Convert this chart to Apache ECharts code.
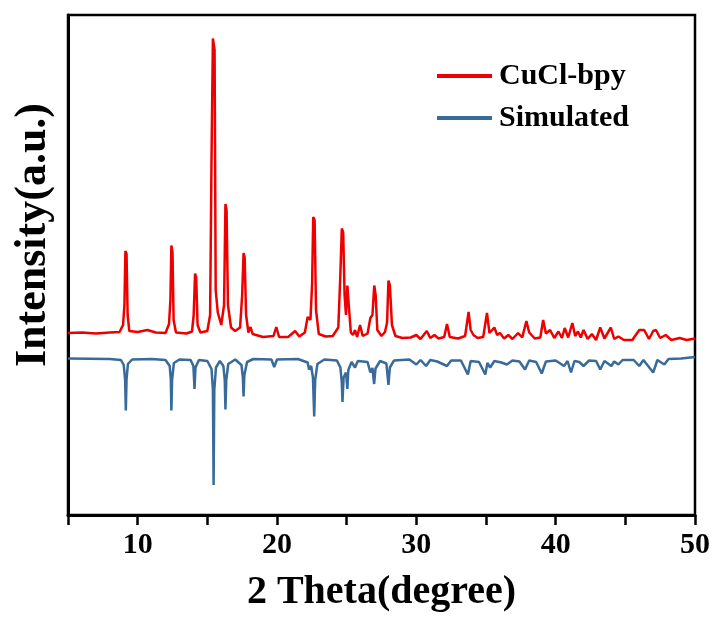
<!DOCTYPE html>
<html>
<head>
<meta charset="utf-8">
<script src="https://cdn.jsdelivr.net/npm/echarts@6/dist/echarts.min.js"></script>
<style>
  html, body { margin: 0; padding: 0; background: #fff; }
  #chart { width: 713px; height: 618px; }
</style>
</head>
<body>
<div id="chart"></div>
<script>
// Powder XRD patterns: measured CuCl-bpy (offset upward) and simulated (plotted inverted below)
const seriesNames = ['CuCl-bpy', 'Simulated'];
const xTicks = [10, 20, 30, 40, 50];

// [2θ, intensity] for the measured pattern
const cuclBpy = [
  [5.0, 36.4], [6.0, 36.5], [7.0, 36.3], [8.0, 36.5], [8.7, 36.6], [8.95, 38.0], [9.05, 42.0],
  [9.12, 52.8], [9.2, 52.3], [9.28, 40.0], [9.4, 36.8], [10.0, 36.6], [10.7, 37.0], [11.3, 36.5],
  [12.0, 36.4], [12.25, 38.2], [12.35, 43.0], [12.42, 53.9], [12.5, 52.5], [12.58, 39.0],
  [12.75, 36.5], [13.5, 36.3], [13.9, 36.7], [14.02, 40.0], [14.12, 48.3], [14.2, 47.5],
  [14.3, 38.0], [14.5, 36.5], [15.0, 36.8], [15.2, 40.0], [15.3, 71.1], [15.36, 71.1],
  [15.4, 95.3], [15.47, 95.3], [15.52, 93.0], [15.6, 45.0], [15.75, 40.5], [16.0, 38.0],
  [16.2, 42.0], [16.3, 62.2], [16.38, 61.0], [16.48, 42.0], [16.7, 37.5], [17.0, 36.8],
  [17.35, 37.5], [17.5, 44.0], [17.6, 52.4], [17.68, 51.5], [17.78, 40.0], [17.95, 36.5],
  [18.1, 37.6], [18.25, 36.2], [19.0, 35.6], [19.75, 35.8], [19.95, 37.6], [20.15, 35.6],
  [20.8, 35.6], [21.3, 36.8], [21.6, 35.7], [22.0, 36.5], [22.2, 39.6], [22.4, 39.0],
  [22.52, 46.3], [22.6, 59.6], [22.7, 59.0], [22.8, 41.0], [23.0, 36.2], [23.5, 35.7],
  [24.0, 35.8], [24.4, 37.5], [24.55, 48.2], [24.65, 57.3], [24.75, 56.5], [24.85, 44.0],
  [24.95, 40.0], [25.05, 45.9], [25.15, 42.0], [25.3, 36.5], [25.45, 36.0], [25.6, 37.0],
  [25.75, 35.6], [25.96, 38.0], [26.15, 35.8], [26.5, 36.3], [26.7, 39.4], [26.85, 40.0],
  [26.98, 45.9], [27.08, 44.0], [27.2, 37.0], [27.5, 35.8], [27.75, 36.6], [27.9, 38.5],
  [28.0, 46.9], [28.1, 46.0], [28.25, 38.0], [28.5, 35.8], [29.0, 35.4], [29.6, 35.5],
  [30.0, 36.0], [30.3, 35.2], [30.75, 36.8], [31.0, 35.4], [31.3, 36.0], [31.6, 35.3],
  [32.0, 35.6], [32.2, 38.2], [32.4, 35.6], [33.0, 35.3], [33.5, 35.8], [33.75, 40.6],
  [33.9, 37.0], [34.1, 36.0], [34.4, 35.4], [34.8, 35.6], [35.07, 40.4], [35.25, 36.4],
  [35.6, 37.5], [35.8, 36.0], [36.0, 36.4], [36.3, 35.3], [36.6, 36.0], [36.9, 35.2],
  [37.3, 36.4], [37.6, 35.5], [37.9, 38.8], [38.1, 36.5], [38.5, 35.3], [38.9, 35.5],
  [39.1, 39.0], [39.3, 36.3], [39.6, 37.0], [39.9, 35.4], [40.2, 36.7], [40.45, 35.4],
  [40.65, 37.4], [40.9, 35.5], [41.2, 38.4], [41.4, 35.8], [41.6, 36.7], [41.8, 35.5],
  [42.0, 37.0], [42.3, 35.2], [42.6, 36.2], [42.9, 35.0], [43.2, 37.5], [43.5, 35.3],
  [43.96, 37.5], [44.2, 35.2], [44.5, 35.7], [44.9, 35.0], [45.5, 35.0], [46.0, 37.0],
  [46.35, 37.0], [46.7, 35.2], [47.0, 36.8], [47.2, 37.0], [47.5, 35.4], [47.9, 36.0],
  [48.3, 35.0], [48.9, 35.4], [49.4, 35.0], [50.0, 35.3]
];

// [2θ, intensity] for the simulated pattern (reflections point downward)
const simulated = [
  [5.0, 31.3], [8.0, 31.2], [8.8, 31.0], [9.0, 30.0], [9.1, 27.0], [9.15, 20.9], [9.2, 27.0],
  [9.3, 30.2], [9.6, 31.1], [11.0, 31.2], [12.0, 31.0], [12.3, 29.8], [12.38, 27.0],
  [12.42, 20.9], [12.47, 27.0], [12.6, 30.4], [13.0, 31.1], [13.8, 31.0], [14.0, 29.8],
  [14.08, 25.2], [14.15, 29.5], [14.4, 31.0], [15.0, 30.8], [15.3, 29.2], [15.4, 25.0],
  [15.45, 6.0], [15.5, 25.0], [15.62, 29.5], [15.9, 30.8], [16.15, 29.8], [16.25, 27.0],
  [16.3, 21.1], [16.36, 27.0], [16.5, 30.2], [17.0, 31.1], [17.45, 30.0], [17.55, 27.5],
  [17.6, 23.7], [17.66, 28.0], [17.85, 30.6], [18.3, 31.2], [19.6, 31.1], [19.8, 29.6],
  [20.0, 31.1], [21.5, 31.2], [22.2, 30.5], [22.3, 29.1], [22.45, 29.8], [22.58, 27.5],
  [22.67, 19.7], [22.74, 27.0], [22.9, 30.2], [23.4, 31.1], [24.3, 30.9], [24.55, 29.5],
  [24.65, 26.5], [24.7, 22.6], [24.78, 27.5], [24.95, 28.5], [25.05, 25.2], [25.12, 29.0],
  [25.35, 30.6], [25.6, 29.5], [25.8, 30.8], [26.5, 30.6], [26.7, 28.5], [26.85, 29.4],
  [26.97, 26.2], [27.07, 29.3], [27.4, 30.8], [27.85, 30.3], [28.0, 26.0], [28.1, 29.5],
  [28.4, 30.9], [29.5, 31.1], [30.0, 30.1], [30.3, 31.0], [30.7, 29.8], [31.0, 31.0],
  [31.5, 30.7], [32.2, 29.8], [32.5, 30.9], [33.2, 30.9], [33.7, 28.1], [33.9, 30.8],
  [34.5, 30.6], [34.95, 28.1], [35.1, 30.4], [35.3, 29.5], [35.6, 30.8], [36.1, 30.5],
  [36.5, 30.1], [36.9, 30.9], [37.4, 30.7], [37.8, 29.1], [38.1, 30.9], [38.6, 30.6],
  [39.0, 28.3], [39.3, 30.7], [40.0, 30.9], [40.6, 29.8], [40.85, 30.8], [41.1, 28.5],
  [41.35, 30.8], [41.7, 30.6], [42.0, 29.8], [42.4, 30.9], [42.9, 30.8], [43.2, 29.1],
  [43.5, 30.8], [44.0, 29.8], [44.2, 30.7], [44.5, 30.1], [44.8, 31.0], [45.6, 31.0],
  [46.0, 29.8], [46.3, 31.0], [47.0, 28.5], [47.3, 31.0], [47.8, 30.1], [48.1, 31.2],
  [49.0, 31.3], [50.0, 31.6]
];

const FONT = '"Liberation Serif", "Times New Roman", serif';
const chart = echarts.init(document.getElementById('chart'), null, { renderer: 'canvas' });

chart.setOption({
  animation: false,
  backgroundColor: '#ffffff',
  grid: {
    left: 68, right: 16, top: 15, bottom: 95,
    show: true, borderColor: '#000', borderWidth: 2.5, backgroundColor: 'transparent'
  },
  legend: {
    data: seriesNames,
    left: 437, top: 61,
    padding: 0,
    orient: 'vertical',
    icon: 'rect',
    itemWidth: 55, itemHeight: 4, itemGap: 12,
    textStyle: { fontFamily: FONT, fontWeight: 'bold', fontSize: 30, color: '#000', padding: [0, 0, 0, 2] }
  },
  xAxis: {
    type: 'value',
    min: 5, max: 50, interval: 5,
    axisLine: { show: true, lineStyle: { color: '#000', width: 3 } },
    axisTick: { show: true, inside: false, length: 10, lineStyle: { color: '#000', width: 2.5 } },
    splitLine: { show: false },
    axisLabel: {
      margin: 15,
      fontFamily: FONT, fontWeight: 'bold', fontSize: 30, color: '#000',
      formatter: v => (xTicks.indexOf(v) >= 0 ? String(v) : '')
    },
    name: '2 Theta(degree)',
    nameLocation: 'middle',
    nameGap: 58,
    nameTextStyle: { fontFamily: FONT, fontWeight: 'bold', fontSize: 40, color: '#000' }
  },
  yAxis: {
    type: 'value',
    min: 0, max: 100,
    axisLine: { show: true, lineStyle: { color: '#000', width: 3 } },
    axisTick: { show: false },
    axisLabel: { show: false },
    splitLine: { show: false }
  },
  graphic: [{
    type: 'text',
    x: 34, y: 235,
    rotation: Math.PI / 2,
    style: {
      text: 'Intensity(a.u.)',
      fontFamily: FONT, fontWeight: 'bold', fontSize: 44,
      fill: '#000', align: 'center', verticalAlign: 'middle'
    }
  }],
  series: [
    {
      name: seriesNames[0],
      type: 'line',
      data: cuclBpy,
      symbol: 'none',
      lineStyle: { color: '#ee0000', width: 2.5 },
      itemStyle: { color: '#ee0000' },
      z: 3
    },
    {
      name: seriesNames[1],
      type: 'line',
      data: simulated,
      symbol: 'none',
      lineStyle: { color: '#386a9a', width: 2.5 },
      itemStyle: { color: '#386a9a' },
      z: 2
    }
  ]
});
</script>
</body>
</html>
